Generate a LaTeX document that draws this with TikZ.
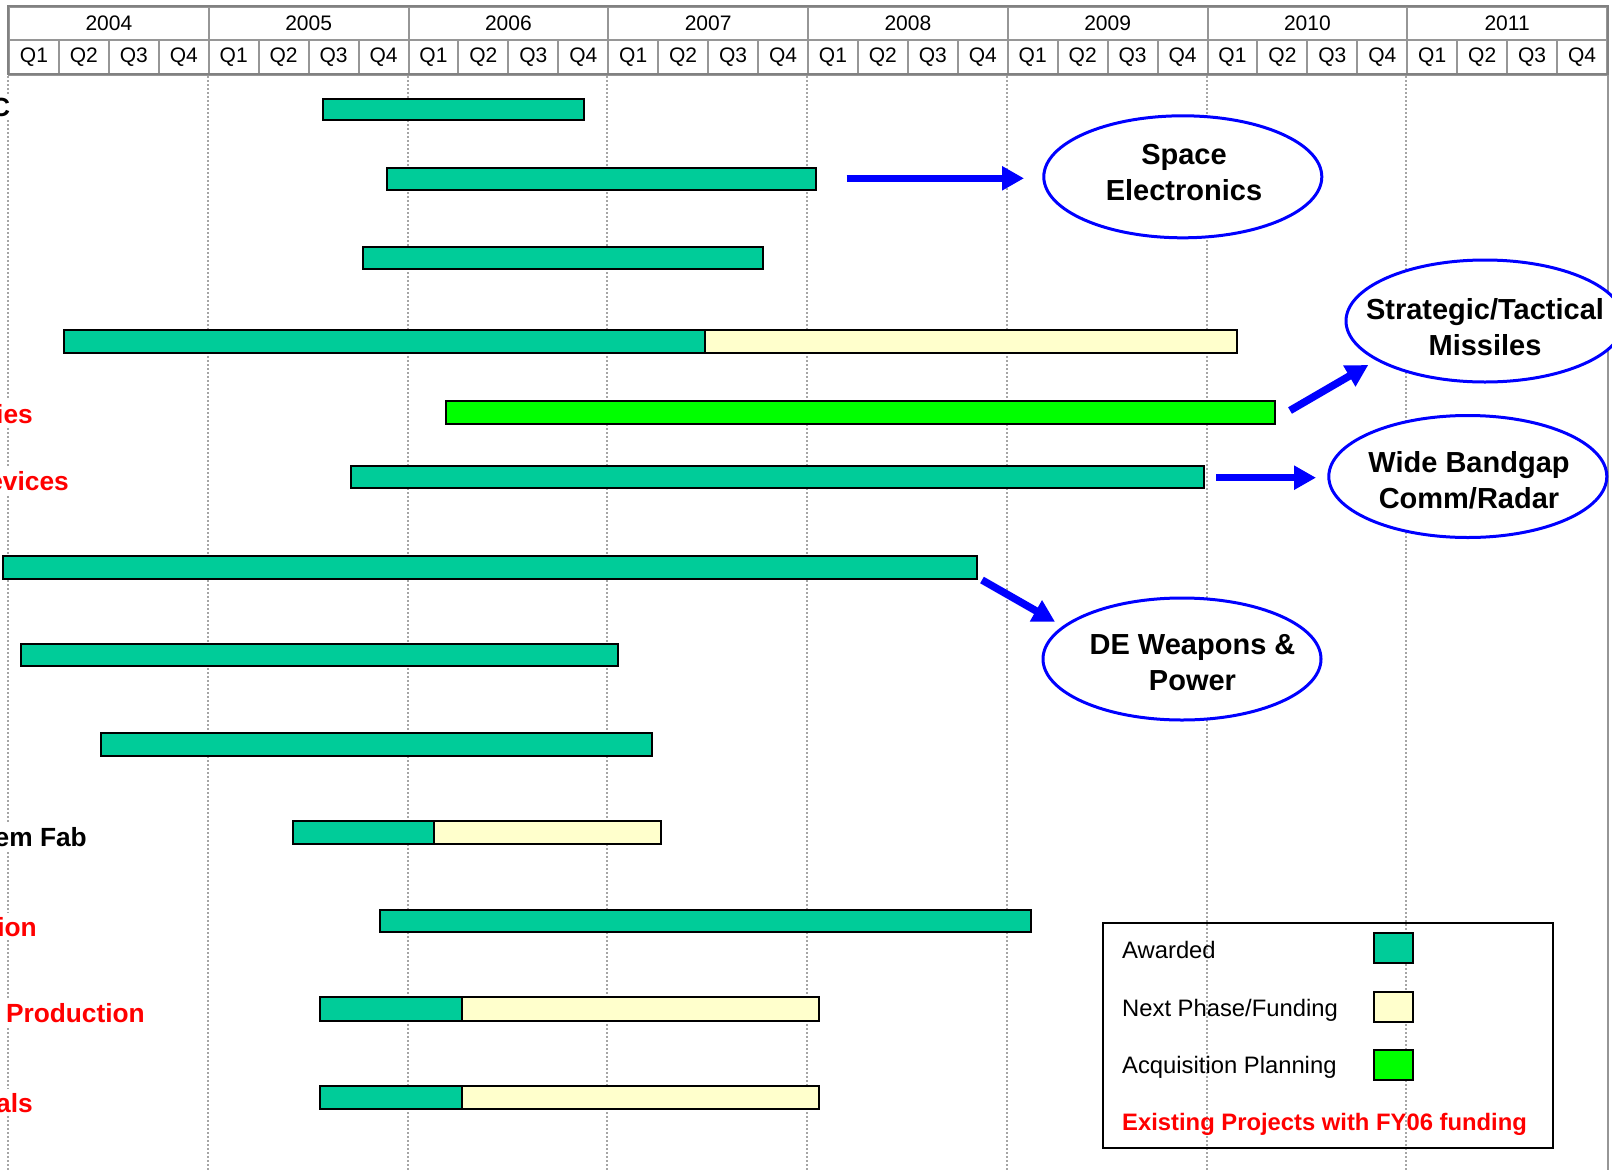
\documentclass[tikz,border=0pt]{standalone}
\usepackage{fontspec}
\setmainfont{Liberation Sans}
\usetikzlibrary{shapes.geometric,arrows.meta}
\definecolor{teal2}{RGB}{0,204,153}
\definecolor{paleyel}{RGB}{255,255,204}
\definecolor{acqgreen}{RGB}{0,255,0}
\definecolor{hdrgray}{RGB}{150,150,150}
\definecolor{gridgray}{RGB}{165,165,165}
\definecolor{blu}{RGB}{0,0,255}
\definecolor{redtxt}{RGB}{255,0,0}
\tikzset{
 barbox/.style={draw=black, line width=2pt, rectangle, inner sep=0pt, anchor=north west},
 hdrcell/.style={draw=hdrgray, line width=2pt, fill=white, rectangle, inner sep=0pt, anchor=north west},
 hdrtext/.style={font=\fontsize{21}{24}\selectfont, inner sep=0pt},
 gridline/.style={draw=gridgray, line width=2pt, dash pattern=on 2pt off 2pt},
 oval/.style={ellipse, draw=blu, line width=3pt, fill=white, minimum width=278pt, minimum height=122pt, inner sep=0pt},
 ovaltext/.style={font=\bfseries\fontsize{29}{36}\selectfont, align=center, inner sep=0pt},
 rowlab/.style={font=\bfseries\fontsize{26.3}{30}\selectfont, anchor=base east, inner xsep=0pt, inner ysep=4pt, fill=white},
 legtext/.style={font=\fontsize{23.8}{28}\selectfont, anchor=base west, inner sep=0pt},
 swatch/.style={draw=black, line width=2pt, rectangle, inner sep=0pt, minimum width=39pt, minimum height=30pt, anchor=north west},
 bigarrow/.style={draw=blu, line width=7.5pt, -{Triangle[length=22pt,width=23pt]}},
}
\newcommand{\gbar}[6]{\node[barbox, fill=#6, minimum width={#3-#2}, minimum height={#5-#4}] (#1) at (#2,#4) {};}
\begin{document}
\begin{tikzpicture}[x=1pt,y=-1pt]
\useasboundingbox (0,0) rectangle (1612,1170);
\fill[white] (0,0) rectangle (1612,1170);
\clip (0,0) rectangle (1612,1170);
% grid
\foreach \k in {0,...,7}{
  \pgfmathsetmacro\gx{8+\k*199.75}
  \draw[gridline] (\gx,76) -- (\gx,1170);
}
\draw[draw=hdrgray, line width=2.5pt] (1608,74) -- (1608,1170);
% header
\foreach \yr [count=\k from 0] in {2004,2005,...,2011} {
  \pgfmathsetmacro\hx{8+\k*199.75}
  \node[hdrcell, minimum width=199.75pt, minimum height=33pt] (y\yr) at (\hx,6) {};
  \node[hdrtext] (yt\yr) at (y\yr.center) {\yr};
  \foreach \q in {1,...,4} {
    \pgfmathsetmacro\qx{\hx+(\q-1)*49.9375}
    \node[hdrcell, minimum width=49.94pt, minimum height=35pt] (q\yr\q) at (\qx,39) {};
    \node[hdrtext] (qt\yr\q) at (q\yr\q.center) {Q\q};
  }
}
\draw[draw=hdrgray!120, line width=2pt] (8,6) rectangle (1607.75,74);
% bars
\gbar{b1}{322}{583}{98}{118.5}{teal2}
\gbar{b2}{385.5}{815}{166.5}{189}{teal2}
\gbar{b3}{362}{762}{246}{268}{teal2}
\gbar{b4a}{62.7}{704}{329}{351.6}{teal2}
\gbar{b4b}{704}{1235.7}{329}{351.6}{paleyel}
\gbar{b5}{445}{1273.7}{400}{422.5}{acqgreen}
\gbar{b6}{349.5}{1202.8}{464.7}{486.5}{teal2}
\gbar{b7}{2}{975.6}{555}{577.7}{teal2}
\gbar{b8}{19.5}{616.8}{642.5}{665}{teal2}
\gbar{b9}{99.7}{650.7}{732}{754.6}{teal2}
\gbar{b10a}{292}{432.8}{820}{843}{teal2}
\gbar{b10b}{432.8}{660}{820}{843}{paleyel}
\gbar{b11}{379}{1030}{908.8}{930.5}{teal2}
\gbar{b12a}{318.7}{460.5}{996}{1019.5}{teal2}
\gbar{b12b}{460.5}{818}{996}{1019.5}{paleyel}
\gbar{b13a}{318.7}{460.5}{1084.5}{1107.5}{teal2}
\gbar{b13b}{460.5}{818}{1084.5}{1107.5}{paleyel}
% row labels (cut at the left edge)
\node[rowlab] (l1) at (10.3,116) {C};
\node[rowlab, text=redtxt] (l5) at (33,423) {ies};
\node[rowlab, text=redtxt] (l6) at (69,490) {evices};
\node[rowlab] (l10) at (87,846) {em Fab};
\node[rowlab, text=redtxt] (l11) at (37,936) {ion};
\node[rowlab, text=redtxt] (l12) at (145,1022.7) {Production};
\node[rowlab, text=redtxt] (l13) at (33,1112) {als};
% ellipses
\node[oval] (eSpace) at (1182.8,176.8) {};
\node[ovaltext] (tSpace) at (1184,172.4) {Space\\Electronics};
\node[oval] (eMiss) at (1485,321) {};
\node[ovaltext] (tMiss) at (1485,327) {Strategic/Tactical\\Missiles};
\node[oval] (eWBG) at (1467.8,476.5) {};
\node[ovaltext] (tWBG) at (1469,480.5) {Wide Bandgap\\Comm/Radar};
\node[oval] (eDE) at (1182,659) {};
\node[ovaltext] (tDE) at (1192.5,662.4) {DE Weapons \&\\Power};
% arrows
\coordinate (a1s) at (846.7,178.3); \coordinate (a1e) at (1024,178.3);
\coordinate (a2s) at (1290,410.5);  \coordinate (a2e) at (1368.3,365);
\coordinate (a3s) at (1216,477.7);  \coordinate (a3e) at (1316,477.7);
\coordinate (a4s) at (982,580);     \coordinate (a4e) at (1055,621.7);
\draw[bigarrow] (a1s) -- (a1e);
\draw[bigarrow] (a2s) -- (a2e);
\draw[bigarrow] (a3s) -- (a3e);
\draw[bigarrow] (a4s) -- (a4e);
% legend
\node[draw=black, line width=2pt, rectangle, minimum width=450pt, minimum height=225pt, anchor=north west, inner sep=0pt] (legend) at (1102,922) {};
\node[legtext] (lg1) at (1122,958.3) {Awarded};
\node[legtext] (lg2) at (1122,1016) {Next Phase/Funding};
\node[legtext] (lg3) at (1122,1073.3) {Acquisition Planning};
\node[legtext, text=redtxt, font=\bfseries\fontsize{23.8}{28}\selectfont] (lg4) at (1122,1130) {Existing Projects with FY06 funding};
\node[swatch, fill=teal2] (sw1) at (1372.7,932) {};
\node[swatch, fill=paleyel] (sw2) at (1372.7,990.7) {};
\node[swatch, fill=acqgreen] (sw3) at (1372.7,1049) {};
\end{tikzpicture}
\end{document}
